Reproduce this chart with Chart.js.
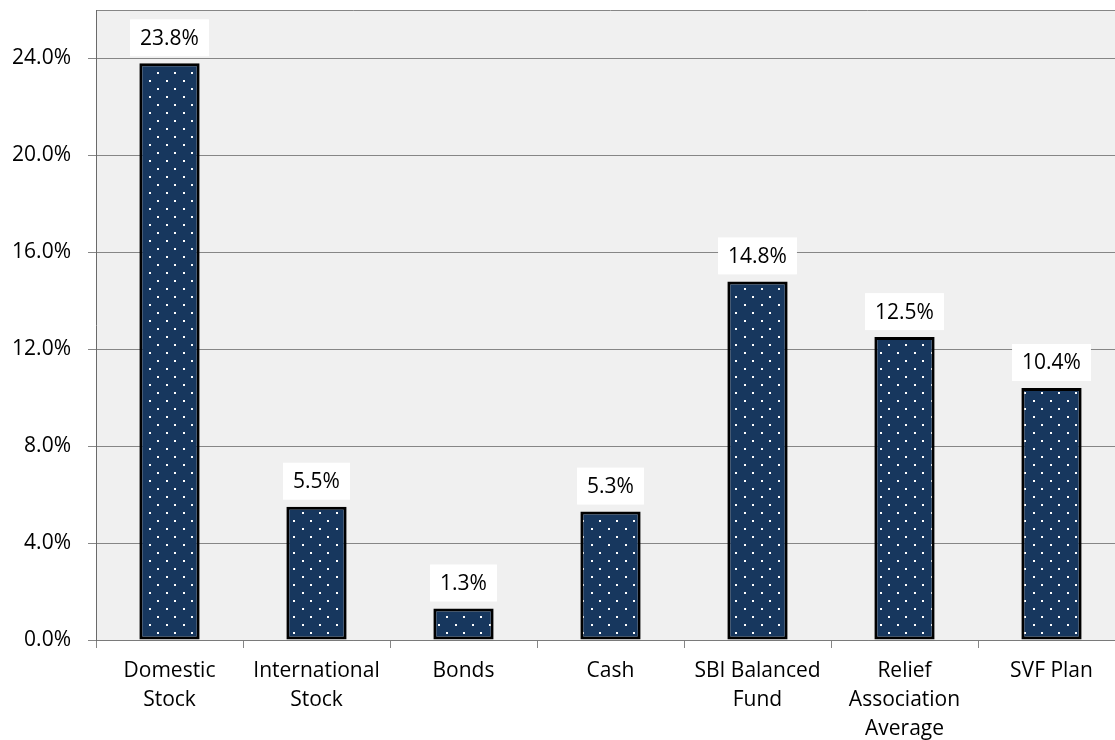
<!DOCTYPE html>
<html>
<head>
<meta charset="utf-8">
<script src="https://cdn.jsdelivr.net/npm/chart.js@4/dist/chart.umd.min.js"></script>
<style>
  html, body { margin: 0; padding: 0; background: #ffffff; overflow: hidden; }
  #wrap { width: 1130px; height: 740px; }
</style>
</head>
<body>
<div id="wrap"><canvas id="returnsChart" width="1130" height="740"></canvas></div>
<script>
// asset classes and their returns (%)
const categories = [
  ["Domestic", "Stock"],
  ["International", "Stock"],
  "Bonds",
  "Cash",
  ["SBI Balanced", "Fund"],
  ["Relief", "Association", "Average"],
  "SVF Plan"
];
const returns = [23.8, 5.5, 1.3, 5.3, 14.8, 12.5, 10.4];
const yTicks = [0, 4, 8, 12, 16, 20, 24];

const NAVY = "#17375e";
const FONT = "'Open Sans', 'DejaVu Sans', sans-serif";

const canvas = document.getElementById("returnsChart");
const ctx = canvas.getContext("2d");

// small tile of staggered white dots on navy
function dotPattern() {
  const tile = document.createElement("canvas");
  tile.width = 17;
  tile.height = 16;
  const g = tile.getContext("2d");
  g.fillStyle = NAVY;
  g.fillRect(0, 0, 17, 16);
  g.fillStyle = "#ffffff";
  g.fillRect(13, 0, 2, 2);
  g.fillRect(4, 8, 2, 2);
  return ctx.createPattern(tile, "repeat");
}

// grey plot area with a thin top edge
const plotBackground = {
  id: "plotBackground",
  beforeDraw(chart) {
    const a = chart.chartArea;
    const c = chart.ctx;
    c.save();
    c.fillStyle = "#f0f0f0";
    c.fillRect(a.left, a.top, a.right - a.left, a.bottom - a.top);
    c.strokeStyle = "#868686";
    c.lineWidth = 1;
    c.beginPath();
    c.moveTo(a.left, a.top + 0.5);
    c.lineTo(a.right, a.top + 0.5);
    c.stroke();
    c.restore();
  }
};

// value tags in white boxes above each bar
const valueTags = {
  id: "valueTags",
  afterDatasetsDraw(chart) {
    const c = chart.ctx;
    const meta = chart.getDatasetMeta(0);
    c.save();
    c.font = "21px " + FONT;
    c.textAlign = "center";
    c.textBaseline = "middle";
    meta.data.forEach((bar, i) => {
      const text = returns[i].toFixed(1) + "%";
      const w = c.measureText(text).width + 20;
      const h = 37;
      const cy = bar.y - 7 - h / 2;
      c.fillStyle = "#ffffff";
      c.fillRect(bar.x - w / 2, cy - h / 2, w, h);
      c.fillStyle = "#000000";
      c.fillText(text, bar.x, cy + 1);
    });
    c.restore();
  }
};

new Chart(ctx, {
  type: "bar",
  data: {
    labels: categories,
    datasets: [{
      data: returns,
      backgroundColor: dotPattern(),
      borderColor: "#000000",
      borderWidth: 3,
      borderSkipped: false,
      categoryPercentage: 1,
      barPercentage: 0.41
    }]
  },
  options: {
    responsive: false,
    animation: false,
    layout: { padding: { top: 10, right: 5, left: 0, bottom: 0 } },
    plugins: {
      legend: { display: false },
      tooltip: { enabled: false }
    },
    scales: {
      x: {
        grid: {
          offset: true,
          drawOnChartArea: false,
          drawTicks: true,
          tickLength: 8,
          color: "#868686"
        },
        border: { color: "#7a7a7a", width: 1 },
        ticks: {
          color: "#000000",
          padding: 9,
          maxRotation: 0,
          autoSkip: false,
          font: { family: FONT, size: 21, lineHeight: 1.38 }
        },
        afterFit(scale) {
          scale.height = 100;
          scale.paddingLeft = 0;
          scale.paddingRight = 0;
        }
      },
      y: {
        min: 0,
        max: 26,
        afterBuildTicks(scale) {
          scale.ticks = yTicks.map(v => ({ value: v }));
        },
        grid: { color: "#868686", tickLength: 8 },
        border: { color: "#6a6a6a", width: 1 },
        ticks: {
          color: "#000000",
          padding: 17,
          font: { family: FONT, size: 21 },
          callback: v => v.toFixed(1) + "%"
        },
        afterFit(scale) {
          scale.width = 96;
          scale.paddingTop = 0;
          scale.paddingBottom = 0;
        }
      }
    }
  },
  plugins: [plotBackground, valueTags]
});
</script>
</body>
</html>
